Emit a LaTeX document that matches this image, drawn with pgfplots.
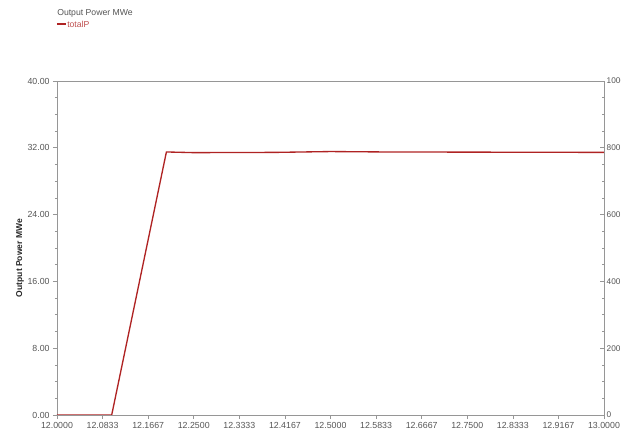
\documentclass[border=0pt]{standalone}
\usepackage{fontspec}
\setmainfont{Liberation Sans}
\usepackage{pgfplots}
\pgfplotsset{compat=1.18}

\definecolor{axgray}{RGB}{150,150,150}
\definecolor{lblgray}{RGB}{85,85,85}
\definecolor{linered}{RGB}{175,35,35}

\pgfplotsset{
  common/.style={
    scale only axis,
    width=410.25pt, height=250.5pt,
    xmin=12, xmax=13, ymin=0,
    axis line style={axgray, line width=0.6pt},
    every tick/.style={axgray, line width=0.5pt},
    tick align=outside,
    major tick length=3pt, minor tick length=1.5pt,
    ticklabel style={font=\fontsize{6.6}{8}\selectfont, text=lblgray},
    /pgf/number format/assume math mode=true,
  }
}

\begin{document}
\begin{tikzpicture}
\begin{axis}[
    common,
    name=main,
    ymax=40,
    axis x line*=bottom,
    axis y line*=left,
    xtick={12,12.083333,12.166667,12.25,12.333333,12.416667,12.5,12.583333,12.666667,12.75,12.833333,12.916667,13},
    xticklabels={12.0000,12.0833,12.1667,12.2500,12.3333,12.4167,12.5000,12.5833,12.6667,12.7500,12.8333,12.9167,13.0000},
    minor x tick num=3,
    ytick={0,8,16,24,32,40},
    minor y tick num=3,
    yticklabel style={/pgf/number format/fixed, /pgf/number format/fixed zerofill, /pgf/number format/precision=2, xshift=1pt},
    xticklabel style={yshift=1pt},
    ylabel={\textbf{Output Power MWe}},
    ylabel style={at={(ticklabel cs:0.47)}, font=\fontsize{6.4}{8}\selectfont, text=black!85, yshift=-4pt},
]
\addplot[linered, line width=1pt] coordinates {
  (12.0000,0) (12.1000,0) (12.2000,31.5) (12.2500,31.42) (12.4000,31.45)
  (12.5000,31.55) (12.6000,31.5) (13.0000,31.45)
};
\draw[axgray, line width=0.6pt] (rel axis cs:0,1) -- (rel axis cs:1,1);
\end{axis}
\begin{axis}[
    common,
    ymax=1000,
    axis x line=none,
    axis y line*=right,
    tick align=inside,
    ytick={0,200,400,600,800,1000},
    yticklabels={0,200,400,600,800,1000},
    minor y tick num=3,
    yticklabel style={font=\fontsize{6.2}{8}\selectfont, xshift=-1.5pt},
]
\addplot[draw=none] coordinates {(12,0) (13,0)};
\end{axis}
\node[anchor=west, inner sep=0pt, text=lblgray, font=\fontsize{6.5}{8}\selectfont]
  at ([yshift=51pt]main.north west) {Output Power MWe};
\draw[linered, line width=0.8pt] ([yshift=42.75pt]main.north west) -- ++(6.75pt,0);
\node[anchor=west, inner sep=0pt, text=linered!80, font=\fontsize{6.5}{8}\selectfont]
  at ([xshift=7.5pt,yshift=42.75pt]main.north west) {totalP};
\pgfresetboundingbox
\path[use as bounding box] ([xshift=-42.75pt,yshift=-12.75pt]main.south west)
  rectangle ([xshift=12.75pt,yshift=60.75pt]main.north east);
\end{tikzpicture}
\end{document}
